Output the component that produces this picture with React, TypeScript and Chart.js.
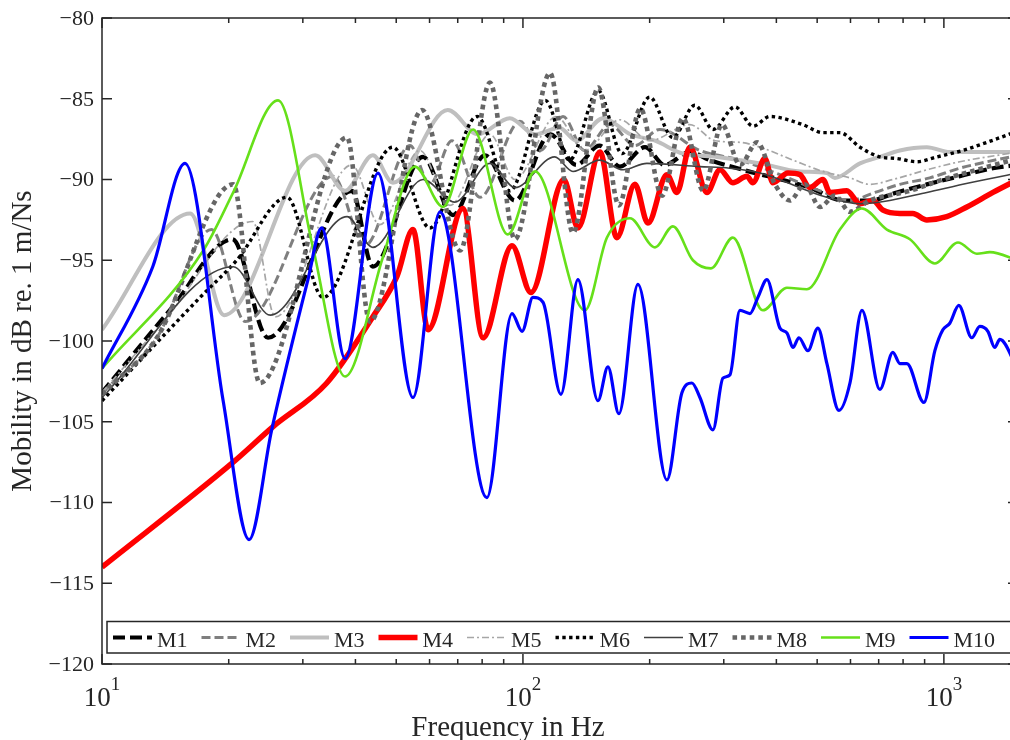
import React, { useEffect, useRef } from "react";
import { Chart, registerables } from "chart.js";

Chart.register(...registerables);

// ---------- data (frequency in Hz, mobility in dB re. 1 m/Ns) ----------
const SERIES_NAMES = ["M1", "M2", "M3", "M4", "M5", "M6", "M7", "M8", "M9", "M10"];

const M1_FREQ = [10, 14.7, 20.4, 24.8, 39.2, 44.0, 57.9, 68.2, 81.2, 95.7, 116, 134, 152, 170, 195, 217, 249, 278, 333, 480, 576, 667, 773, 911, 1091, 1308, 1500];
const M1_DB = [-103.2, -97.9, -93.7, -99.8, -90.7, -95.4, -88.6, -92.2, -88.5, -91.3, -87.2, -89.1, -87.9, -89.2, -88.0, -89.1, -88.3, -88.8, -89.4, -90.5, -91.3, -91.3, -90.8, -90.3, -89.8, -89.3, -89.1];

const M2_FREQ = [10, 13.5, 18.2, 21.9, 35.4, 42.1, 53.9, 60.1, 67.8, 79.1, 98.4, 110, 124.5, 140, 161, 184.5, 211.5, 263, 328, 408, 508, 598, 686, 786, 926, 1091, 1500];
const M2_DB = [-103.2, -99.8, -93.1, -98.8, -89.8, -94.1, -87.9, -90.3, -87.6, -91.1, -86.4, -88.2, -86.1, -88.2, -86.6, -87.9, -86.9, -88.2, -88.8, -89.7, -90.7, -91.3, -90.8, -90.3, -89.9, -89.3, -88.5];

const M3_FREQ = [10, 16.2, 19.5, 32.1, 37.8, 44.0, 49.1, 66.3, 78.2, 93.1, 106.8, 122, 134, 155, 180, 206, 240, 289, 366, 455, 527, 551, 632, 705, 786, 911, 1033, 1500];
const M3_DB = [-99.3, -92.1, -98.4, -88.5, -90.7, -88.5, -90.2, -85.7, -87.2, -86.2, -87.2, -86.8, -87.6, -86.2, -87.2, -87.6, -88.4, -88.6, -89.0, -89.5, -89.6, -89.9, -89.0, -88.6, -88.2, -88.0, -88.3, -88.3];

const M4_FREQ = [10, 20.5, 25.5, 34.2, 44.0, 50.2, 54.8, 59.5, 72.0, 80.4, 94.2, 104.5, 125.1, 135.1, 152.4, 167.2, 184.5, 198.1, 219.8, 232.2, 249.3, 273.6, 293.8, 315.3, 340.5, 351.8, 375.7, 392.5, 426.1, 455, 480, 516, 536, 588, 632, 678, 717, 786, 844, 911, 1016, 1134, 1308, 1500];
const M4_DB = [-114.0, -107.5, -105.3, -102.6, -98.5, -96.0, -93.1, -99.3, -91.8, -99.8, -94.1, -97.0, -90.0, -93.0, -88.3, -93.6, -90.3, -92.7, -89.7, -90.8, -88.0, -90.8, -89.4, -90.2, -89.8, -90.2, -88.7, -90.2, -89.6, -89.7, -90.5, -90.0, -90.8, -90.7, -91.5, -91.3, -91.9, -92.1, -92.1, -92.5, -92.3, -91.7, -90.8, -90.0];

const M5_FREQ = [10, 14.1, 22.8, 25.8, 39.2, 45.7, 56.9, 67.1, 83.5, 95.7, 120, 140, 170, 200, 249, 286, 328, 366, 438, 516, 598, 667, 757, 911, 1091, 1500];
const M5_DB = [-103.2, -98.7, -92.6, -98.5, -89.1, -92.8, -88.2, -91.6, -87.2, -90.0, -86.1, -88.2, -86.3, -87.6, -86.6, -87.6, -87.7, -88.0, -88.8, -89.5, -89.9, -90.3, -90.0, -89.4, -88.9, -88.3];

const M6_FREQ = [10, 17.1, 20.9, 27.5, 33.5, 49.1, 60.1, 77.8, 93.1, 113, 129, 151, 172, 200, 227, 256, 283, 319, 352, 386, 462, 516, 566, 632, 705, 773, 863, 963, 1109, 1265, 1500];
const M6_DB = [-103.7, -97.3, -95.0, -91.1, -97.3, -88.0, -93.0, -86.1, -90.7, -85.1, -88.8, -84.5, -88.4, -84.9, -87.4, -85.4, -86.9, -85.5, -86.7, -86.1, -86.6, -87.1, -87.1, -88.0, -88.6, -88.7, -88.9, -88.6, -88.2, -87.7, -87.0];

const M7_FREQ = [10, 20.5, 25.1, 38.2, 44.0, 57.9, 68.9, 83.5, 95.7, 119, 131.5, 152, 173, 197, 263, 310, 366, 527, 632, 744, 911, 1153, 1500];
const M7_DB = [-103.5, -95.4, -98.4, -92.3, -94.2, -90.0, -91.4, -89.0, -90.5, -88.6, -89.5, -88.8, -89.4, -89.0, -89.2, -89.3, -89.6, -91.1, -91.5, -91.3, -90.8, -90.2, -89.6];

const M8_FREQ = [10, 13.5, 20.5, 23.7, 38.2, 43.3, 57.6, 70.9, 83.5, 95.7, 116, 131.5, 151, 169, 190, 214, 240, 268, 297, 328, 360, 397, 431, 467, 508, 551, 598, 667, 830, 995, 1198, 1500];
const M8_DB = [-103.3, -99.8, -90.3, -102.6, -87.4, -98.8, -85.7, -94.4, -84.0, -93.7, -83.4, -93.3, -84.3, -91.6, -85.6, -91.0, -86.2, -90.7, -86.6, -89.1, -87.7, -90.3, -91.3, -90.3, -91.7, -91.0, -92.0, -91.3, -90.7, -90.0, -89.4, -88.7];

const M9_FREQ = [10, 17.4, 20.5, 26.2, 31.7, 37.8, 46.5, 55.4, 64.6, 76.1, 92.1, 106.8, 140.4, 158.3, 179.6, 205.9, 227.1, 253.4, 279.7, 315.3, 371.6, 423.8, 472.7, 566.2, 638.8, 732.1, 830.4, 952, 1080, 1198, 1286, 1500];
const M9_DB = [-101.7, -94.4, -90.8, -85.1, -94.2, -102.2, -94.8, -89.2, -91.7, -86.9, -93.4, -89.5, -98.1, -93.6, -92.4, -94.2, -92.9, -95.0, -95.5, -93.6, -98.1, -96.7, -96.8, -93.1, -91.8, -93.1, -93.7, -95.2, -93.9, -94.6, -94.5, -95.0];

const M10_FREQ = [10, 13.2, 15.75, 19.4, 22.35, 25.3, 30.85, 33.25, 37.8, 45.25, 54.8, 63.5, 82.1, 94.2, 99.5, 105.6, 111.6, 123.1, 135.1, 150.7, 159.2, 169, 187.6, 219.8, 238.6, 252, 263.3, 282.7, 298.6, 310.3, 327.7, 346.2, 361.6, 379.9, 407.9, 423.8, 437.9, 452.5, 475.3, 502, 527.4, 563.2, 598.3, 638.8, 704.7, 756.6, 786.1, 816.8, 896.5, 952, 994.5, 1033, 1085, 1165, 1217, 1272, 1321, 1358, 1500];
const M10_DB = [-101.7, -95.4, -89.0, -103.7, -112.3, -105.5, -96.2, -93.0, -101.1, -89.6, -103.5, -92.0, -109.7, -98.3, -99.4, -97.3, -97.6, -103.3, -96.2, -103.7, -101.6, -104.5, -96.5, -108.6, -103.2, -102.6, -103.5, -105.5, -102.3, -102.1, -98.1, -98.3, -97.3, -96.2, -99.2, -99.5, -100.4, -99.8, -100.6, -99.2, -101.4, -104.3, -102.6, -98.1, -103.0, -100.7, -101.4, -101.4, -103.8, -100.6, -99.3, -98.9, -97.8, -99.8, -99.1, -99.4, -100.4, -99.9, -101.8];

const SERIES_FREQ = [M1_FREQ, M2_FREQ, M3_FREQ, M4_FREQ, M5_FREQ, M6_FREQ, M7_FREQ, M8_FREQ, M9_FREQ, M10_FREQ];
const SERIES_DB = [M1_DB, M2_DB, M3_DB, M4_DB, M5_DB, M6_DB, M7_DB, M8_DB, M9_DB, M10_DB];

// axis ranges and tick values
const X_MIN = 10;
const X_MAX = 1500;
const Y_MIN = -120;
const Y_MAX = -80;
const Y_TICKS = [-120, -115, -110, -105, -100, -95, -90, -85, -80];
const X_MAJOR_TICKS = [10, 100, 1000];
const X_MINOR_TICKS = [20, 30, 40, 50, 60, 70, 80, 90, 200, 300, 400, 500, 600, 700, 800, 900];
const X_TITLE = "Frequency in Hz";
const Y_TITLE = "Mobility in dB re. 1 m/Ns";

// ---------- styles ----------
const STYLES = [
  { color: "#000000", width: 4.2, dash: [12, 5] },
  { color: "#7f7f7f", width: 3, dash: [9, 4] },
  { color: "#bfbfbf", width: 4, dash: [] },
  { color: "#ff0000", width: 5.5, dash: [] },
  { color: "#a6a6a6", width: 1.7, dash: [7, 3, 2, 3] },
  { color: "#000000", width: 3.4, dash: [3.4, 3.4] },
  { color: "#404040", width: 1.6, dash: [] },
  { color: "#666666", width: 4.6, dash: [4.6, 4] },
  { color: "#66e01a", width: 2.6, dash: [] },
  { color: "#0000ff", width: 3.2, dash: [] },
];

const FONT = '"Liberation Serif", "Times New Roman", serif';
const AXIS_COLOR = "#262626";

const matlabAxes = {
  id: "matlabAxes",
  afterDatasetsDraw(chart: any) {
    const { ctx, chartArea: a, scales } = chart;
    const xs = scales.x;
    const ys = scales.y;
    ctx.save();
    ctx.strokeStyle = AXIS_COLOR;
    ctx.fillStyle = AXIS_COLOR;
    ctx.lineWidth = 1.5;
    ctx.setLineDash([]);

    // ticks (inward, all four sides)
    ctx.beginPath();
    for (const v of Y_TICKS) {
      const y = ys.getPixelForValue(v);
      ctx.moveTo(a.left, y);
      ctx.lineTo(a.left + 10, y);
      ctx.moveTo(a.right, y);
      ctx.lineTo(a.right - 10, y);
    }
    for (const f of X_MAJOR_TICKS) {
      const x = xs.getPixelForValue(f);
      ctx.moveTo(x, a.bottom);
      ctx.lineTo(x, a.bottom - 10);
      ctx.moveTo(x, a.top);
      ctx.lineTo(x, a.top + 10);
    }
    for (const f of X_MINOR_TICKS) {
      const x = xs.getPixelForValue(f);
      ctx.moveTo(x, a.bottom);
      ctx.lineTo(x, a.bottom - 5);
      ctx.moveTo(x, a.top);
      ctx.lineTo(x, a.top + 5);
    }
    ctx.stroke();
    ctx.strokeRect(a.left, a.top, a.right - a.left, a.bottom - a.top);

    // y tick labels
    ctx.font = `22px ${FONT}`;
    ctx.textAlign = "right";
    ctx.textBaseline = "middle";
    for (const v of Y_TICKS) {
      ctx.fillText(String(v).replace("-", "\u2212"), a.left - 8, ys.getPixelForValue(v) + 1);
    }

    // x tick labels: 10^n
    ctx.textAlign = "left";
    ctx.textBaseline = "alphabetic";
    for (const f of X_MAJOR_TICKS) {
      const x = xs.getPixelForValue(f);
      const base = "10";
      const exp = String(Math.round(Math.log10(f)));
      ctx.font = `27px ${FONT}`;
      const w1 = ctx.measureText(base).width;
      ctx.font = `19px ${FONT}`;
      const w2 = ctx.measureText(exp).width;
      const start = x - (w1 + w2) / 2;
      ctx.font = `27px ${FONT}`;
      ctx.fillText(base, start, 706);
      ctx.font = `19px ${FONT}`;
      ctx.fillText(exp, start + w1, 690);
    }

    // axis titles
    ctx.font = `29px ${FONT}`;
    ctx.textAlign = "center";
    ctx.textBaseline = "alphabetic";
    ctx.fillText(X_TITLE, 508, 736);
    ctx.save();
    ctx.translate(31, (a.top + a.bottom) / 2);
    ctx.rotate(-Math.PI / 2);
    ctx.fillText(Y_TITLE, 0, 0);
    ctx.restore();

    // legend
    const boxL = 107, boxT = 621.5, boxW = 906, boxH = 31.5;
    ctx.fillStyle = "#ffffff";
    ctx.fillRect(boxL, boxT, boxW, boxH);
    ctx.strokeStyle = AXIS_COLOR;
    ctx.lineWidth = 1.5;
    ctx.strokeRect(boxL, boxT, boxW, boxH);
    const ly = 637.5;
    chart.data.datasets.forEach((ds: any, i: number) => {
      const x0 = 113 + 88.5 * i;
      ctx.save();
      ctx.strokeStyle = ds.borderColor;
      ctx.lineWidth = ds.borderWidth;
      ctx.setLineDash(ds.borderDash || []);
      ctx.lineCap = "butt";
      ctx.beginPath();
      ctx.moveTo(x0, ly);
      ctx.lineTo(x0 + 39, ly);
      ctx.stroke();
      ctx.restore();
      ctx.fillStyle = AXIS_COLOR;
      ctx.font = `22px ${FONT}`;
      ctx.textAlign = "left";
      ctx.textBaseline = "alphabetic";
      ctx.fillText(ds.label, x0 + 44, 647);
    });
    ctx.restore();
  },
};

export default function App() {
  const ref = useRef<HTMLCanvasElement | null>(null);
  useEffect(() => {
    if (!ref.current) return;
    const datasets = SERIES_NAMES.map((name, i) => ({
      label: name,
      data: SERIES_FREQ[i].map((f, k) => ({ x: f, y: SERIES_DB[i][k] })),
      borderColor: STYLES[i].color,
      backgroundColor: STYLES[i].color,
      borderWidth: STYLES[i].width,
      borderDash: STYLES[i].dash,
      borderCapStyle: "butt" as const,
      borderJoinStyle: "round" as const,
      cubicInterpolationMode: "monotone" as const,
      pointRadius: 0,
      fill: false,
      order: SERIES_NAMES.length - i,
    }));
    const chart = new Chart(ref.current, {
      type: "line",
      data: { datasets },
      options: {
        responsive: false,
        animation: false,
        devicePixelRatio: 1,
        events: [],
        layout: { padding: { left: 102, right: 12, top: 18, bottom: 76 } },
        plugins: { legend: { display: false }, tooltip: { enabled: false } },
        scales: {
          x: { type: "logarithmic", min: X_MIN, max: X_MAX, display: false },
          y: { type: "linear", min: Y_MIN, max: Y_MAX, display: false },
        },
      },
      plugins: [matlabAxes],
    });
    return () => chart.destroy();
  }, []);
  return (
    <div
      style={{
        position: "fixed",
        left: 0,
        top: 0,
        width: 1010,
        height: 740,
        overflow: "hidden",
        background: "#ffffff",
      }}
    >
      <canvas ref={ref} width={1030} height={740} style={{ display: "block", width: 1030, height: 740 }} />
    </div>
  );
}
